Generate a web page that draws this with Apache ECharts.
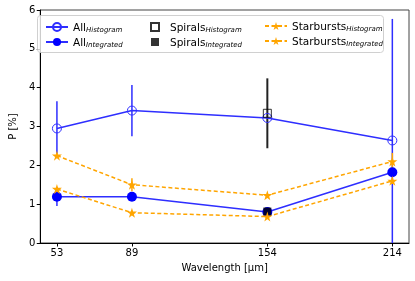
<!DOCTYPE html>
<html><head><meta charset="utf-8">
<script src="https://cdn.jsdelivr.net/npm/echarts@6/dist/echarts.min.js"></script>
<style>html,body{margin:0;padding:0;background:#fff}#c{width:415px;height:281px}</style>
</head><body><div id="c"></div>
<script>
// ---- data ----
const wavelengths = [53, 89, 154, 214];
const xTickLabels = [53, 89, 154, 214];
const allHist = [2.95, 3.41, 3.22, 2.64];
const allHistErr = [0.70, 0.66, 0, 3.13];
const allInt = [1.19, 1.19, 0.80, 1.82];
const allIntErr = [0.24, 0.08, 0.06, 0.08];
const spiralWl = [154];
const spiralHist = [3.34];
const spiralHistErr = [0.90];
const spiralInt = [0.81];
const spiralIntErr = [0.05];
const starHist = [2.25, 1.50, 1.23, 2.10];
const starHistErr = [0.06, 0.17, 0.04, 0.22];
const starInt = [1.39, 0.78, 0.68, 1.60];
const starIntErr = [0.05, 0.05, 0.04, 0.08];

const BLUE = '#2e2eff', ORANGE = '#ffa500', BLACK = '#000';
const STAR = 'path://M50,0 L61,35 L98,35 L68,57 L79,91 L50,70 L21,91 L32,57 L2,35 L39,35 Z';

function pts(xs, ys){ return xs.map((x,i)=>[x, ys[i]]); }
function errs(xs, ys, es){ return xs.map((x,i)=>[x, ys[i]-es[i], ys[i]+es[i]]).filter((d,i)=>es[i]>0); }
function errSeries(data, color, width){
  return {
    type:'custom', data: data, clip:true, z:2, silent:true,
    renderItem: function(params, api){
      const a = api.coord([api.value(0), api.value(1)]);
      const b = api.coord([api.value(0), api.value(2)]);
      return {type:'line', shape:{x1:a[0],y1:a[1],x2:b[0],y2:b[1]}, style:{stroke:color, lineWidth:width}};
    }
  };
}
const rich = {
  m:{fontSize:10.5, fontFamily:'DejaVu Sans', color:'#000', lineHeight:14, verticalAlign:'bottom'},
  s:{fontSize:7, fontStyle:'italic', fontFamily:'DejaVu Sans', color:'#000', lineHeight:14, verticalAlign:'bottom', padding:[4,0,0,0]}
};
function fmt(name){ const p = name.split('_'); return '{m|'+p[0]+'}{s|'+p[1]+'}'; }
function legend(left, names, iw, ih, pad){
  return {orient:'vertical', left:left, top:17, itemGap:4, itemWidth:iw, itemHeight:ih, z:10,
    data:names, formatter:fmt, textStyle:{rich:rich, padding:[0,0,0,pad]}, selectedMode:false};
}

const chart = echarts.init(document.getElementById('c'));
chart.setOption({
  animation:false,
  grid:{left:32, right:6, top:10, bottom:38, show:true, borderColor:'#444', borderWidth:1},
  xAxis:{type:'value', min:45, max:222,
    name:'Wavelength [μm]', nameLocation:'middle', nameGap:20,
    nameTextStyle:{fontSize:10, fontFamily:'DejaVu Sans', color:'#000'},
    axisLine:{show:true, lineStyle:{color:'#000'}},
    axisTick:{show:true, length:3.5, customValues:xTickLabels, lineStyle:{color:'#000'}},
    axisLabel:{customValues:xTickLabels, fontSize:10, fontFamily:'DejaVu Sans', color:'#000', margin:5},
    splitLine:{show:false}},
  yAxis:{type:'value', min:0, max:6, interval:1,
    name:'P [%]', nameLocation:'middle', nameGap:20,
    nameTextStyle:{fontSize:10, fontFamily:'DejaVu Sans', color:'#000'},
    axisLine:{show:true, lineStyle:{color:'#000'}},
    axisTick:{show:true, length:3.5, lineStyle:{color:'#000'}},
    axisLabel:{fontSize:10, fontFamily:'DejaVu Sans', color:'#000', margin:5},
    splitLine:{show:false}},
  graphic:[{type:'rect', left:37, top:15, shape:{width:346, height:37, r:3},
    style:{fill:'rgba(255,255,255,0.8)', stroke:'#d0d0d0', lineWidth:1}, z:6}],
  legend:[
    legend(40, ['All_Histogram','All_Integrated'], 22, 10, 0),
    legend(145, ['Spirals_Histogram','Spirals_Integrated'], 8, 8, 6),
    legend(259, ['Starbursts_Histogram','Starbursts_Integrated'], 22, 10, 0)
  ],
  series:[
    errSeries(errs(wavelengths, allHist, allHistErr), BLUE, 1.5),
    errSeries(errs(wavelengths, allInt, allIntErr), BLUE, 1.5),
    errSeries(errs(spiralWl, spiralHist, spiralHistErr), '#222', 2),
    errSeries(errs(spiralWl, spiralInt, spiralIntErr), '#222', 2),
    errSeries(errs(wavelengths, starHist, starHistErr), ORANGE, 1.5),
    errSeries(errs(wavelengths, starInt, starIntErr), ORANGE, 1.5),
    {name:'All_Histogram', type:'line', data:pts(wavelengths, allHist), z:3,
      symbol:'circle', symbolSize:9, color:BLUE,
      lineStyle:{color:BLUE, width:1.5},
      itemStyle:{color:'rgba(255,255,255,0)', borderColor:BLUE, borderWidth:1}},
    {name:'All_Integrated', type:'line', data:pts(wavelengths, allInt), z:3,
      symbol:'circle', symbolSize:10, color:BLUE,
      lineStyle:{color:BLUE, width:1.5}, itemStyle:{color:'#0000ff'}},
    {name:'Spirals_Histogram', type:'scatter', data:pts(spiralWl, spiralHist), z:3,
      symbol:'rect', symbolSize:8, color:BLACK,
      itemStyle:{color:'rgba(255,255,255,0)', borderColor:'#000', borderWidth:1}},
    {name:'Spirals_Integrated', type:'scatter', data:pts(spiralWl, spiralInt), z:3,
      symbol:'rect', symbolSize:8, color:BLACK, itemStyle:{color:'#000'}},
    {name:'Starbursts_Histogram', type:'line', data:pts(wavelengths, starHist), z:3,
      symbol:STAR, symbolSize:10, color:ORANGE,
      lineStyle:{color:ORANGE, width:1.5, type:[4,2.5]}, itemStyle:{color:ORANGE}},
    {name:'Starbursts_Integrated', type:'line', data:pts(wavelengths, starInt), z:3,
      symbol:STAR, symbolSize:10, color:ORANGE,
      lineStyle:{color:ORANGE, width:1.5, type:[4,2.5]}, itemStyle:{color:ORANGE}}
  ]
});
</script></body></html>
